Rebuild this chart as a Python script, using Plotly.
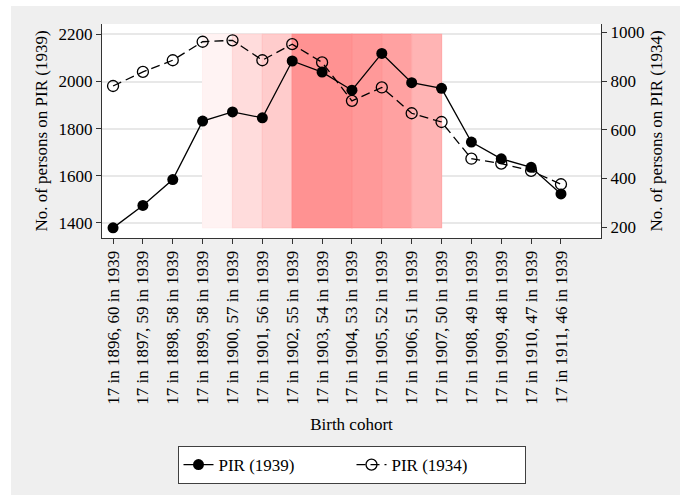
import plotly.graph_objects as go

# ---------------- data ----------------
birth_years = [1896, 1897, 1898, 1899, 1900, 1901, 1902, 1903,
               1904, 1905, 1906, 1907, 1908, 1909, 1910, 1911]
ages_1939 = [60, 59, 58, 58, 57, 56, 55, 54, 53, 52, 51, 50, 49, 48, 47, 46]
tick_labels = [f"17 in {b}, {a} in 1939" for b, a in zip(birth_years, ages_1939)]

pir_1939 = [1379, 1474, 1584, 1832, 1871, 1846, 2087, 2040,
            1963, 2119, 1995, 1971, 1743, 1672, 1636, 1523]
pir_1934 = [780, 838, 886, 962, 968, 886, 952, 877,
            719, 774, 668, 632, 481, 461, 431, 376]

# shaded bands: (start index, end index, fill colour, edge colour)
shade_bands = [
    (3, 4, "#fff3f3", "#fff0f0"),
    (4, 5, "#ffdcdc", "#ffd6d6"),
    (5, 6, "#ffcccc", "#ffc4c4"),
    (6, 8, "#ff9292", "#ff8a8a"),
    (8, 9, "#ff9999", "#ff8e8e"),
    (9, 10, "#ffa1a1", "#ff9696"),
    (10, 11, "#ffb4b4", "#ffaaaa"),
]
shade_bottom = 1380
shade_top = 2200

left_ticks = [1400, 1600, 1800, 2000, 2200]
right_ticks = [200, 400, 600, 800, 1000]

FONT = "Liberation Serif, Times New Roman, serif"
x_idx = list(range(len(tick_labels)))

fig = go.Figure()

fig.add_trace(go.Scatter(
    x=x_idx, y=pir_1939, name="PIR (1939)", mode="lines+markers",
    line=dict(color="black", width=1.3),
    marker=dict(symbol="circle", size=11, color="black"),
    yaxis="y",
))
fig.add_trace(go.Scatter(
    x=x_idx, y=pir_1934, name="PIR (1934)", mode="lines+markers",
    line=dict(color="black", width=1.3, dash="9px,5px"),
    marker=dict(symbol="circle-open", size=11, color="black",
                line=dict(width=1.3, color="black")),
    yaxis="y2",
))

shapes = []
# white strips at the top and left border of the figure
shapes.append(dict(type="rect", xref="paper", yref="paper",
                   x0=-0.4, x1=-0.1824, y0=-1.5, y1=1.3,
                   fillcolor="white", line=dict(width=0), layer="above"))
shapes.append(dict(type="rect", xref="paper", yref="paper",
                   x0=-0.4, x1=1.4, y0=1.0841, y1=1.3,
                   fillcolor="white", line=dict(width=0), layer="above"))
for s, e, fc, lc in shade_bands:
    shapes.append(dict(type="rect", xref="x", yref="y",
                       x0=s, x1=e, y0=shade_bottom, y1=shade_top,
                       fillcolor=fc, line=dict(color=lc, width=1.2),
                       layer="between"))

fig.update_layout(
    width=680, height=495,
    margin=dict(l=102, r=79, t=24, b=257, autoexpand=False),
    paper_bgcolor="#efefef",
    plot_bgcolor="white",
    font=dict(family=FONT, size=17, color="black"),
    shapes=shapes,
    showlegend=True,
    legend=dict(
        orientation="h", x=0.5, xanchor="center", y=-0.972, yanchor="top",
        bgcolor="white", bordercolor="#404040", borderwidth=1,
        font=dict(family=FONT, size=17, color="black"),
        entrywidth=128, entrywidthmode="pixels", traceorder="normal",
    ),
    xaxis=dict(
        range=[-0.37, 16.34], tickmode="array", tickvals=x_idx, ticktext=tick_labels,
        tickangle=-90, ticks="outside", ticklen=5, tickcolor="#333",
        showline=True, linecolor="#333", linewidth=1, showgrid=False, zeroline=False,
        title=dict(text="Birth cohort", standoff=14, font=dict(size=17)),
        tickfont=dict(size=17),
    ),
    yaxis=dict(
        range=[1336, 2244], tickmode="array", tickvals=left_ticks,
        ticks="outside", ticklen=5, tickcolor="#333",
        showline=True, linecolor="#333", linewidth=1,
        showgrid=True, gridcolor="#e8e8e8", gridwidth=1.5, zeroline=False,
        title=dict(text="No. of persons on PIR (1939)", standoff=6, font=dict(size=17)),
        tickfont=dict(size=17),
    ),
    yaxis2=dict(
        range=[155, 1035], tickmode="array", tickvals=right_ticks,
        overlaying="y", side="right", anchor="x",
        ticks="outside", ticklen=5, tickcolor="#333",
        showline=True, linecolor="#333", linewidth=1,
        showgrid=False, zeroline=False,
        title=dict(text="No. of persons on PIR (1934)", standoff=6, font=dict(size=17)),
        tickfont=dict(size=17),
    ),
)

fig.write_html("out.html", config={"displayModeBar": False},
               post_script="document.body.style.margin='0';")
